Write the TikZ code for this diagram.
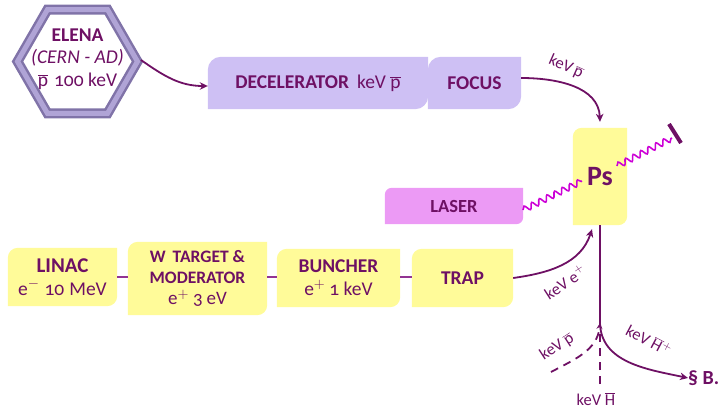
\documentclass[tikz,border=0pt]{standalone}
\usepackage{fontspec}
\setmainfont{Carlito}[Numbers=OldStyle]
\usetikzlibrary{arrows.meta,decorations.pathmorphing,backgrounds}

\definecolor{ink}{RGB}{110,16,100}
\definecolor{lav}{RGB}{206,192,244}
\definecolor{yel}{RGB}{255,251,153}
\definecolor{las}{RGB}{236,154,245}
\definecolor{wavec}{RGB}{204,0,214}
\definecolor{linkc}{RGB}{146,52,146}
\definecolor{hexdark}{RGB}{128,115,168}
\definecolor{hexmid}{RGB}{176,164,214}

% box with rounded top-left and bottom-right corners: node, colour, radius
\newcommand\leafshape[3]{%
  \fill[#2] (#1.south west) -- ([yshift=-#3]#1.north west)
    arc[start angle=180,end angle=90,radius=#3] -- (#1.north east)
    -- ([yshift=#3]#1.south east)
    arc[start angle=0,end angle=-90,radius=#3] -- cycle;}

\newcommand\pbar{\(\overline{\mathrm{p}}\)}
\newcommand\Hbar{\(\overline{\mathrm{H}}\)}

\begin{document}
\begin{tikzpicture}[x=1pt,y=1pt,
  txt/.style={text=ink, align=center, inner sep=0pt},
  bigf/.style={font=\fontsize{19.5}{23}\selectfont},
  lbl/.style={text=ink, font=\fontsize{16.5}{18}\selectfont, inner sep=0pt},
  arr/.style={draw=ink, line width=1.8pt, -{Stealth[length=8pt,width=7.5pt,inset=2.5pt]}},
  linkline/.style={draw=linkc, line width=2.5pt},
  wavy/.style={draw=wavec, line width=1.6pt, decorate,
    decoration={snake, amplitude=3pt, segment length=8.5pt}},
]
\useasboundingbox (0,0) rectangle (724,-410);

% ELENA hexagon
\coordinate (hexc) at (77.5,-61.5);
\draw[hexdark, line width=10pt, line join=miter]
  (hexc) +(0:60) -- +(60:60) -- +(120:60) -- +(180:60) -- +(240:60) -- +(300:60) -- cycle;
\draw[hexmid, line width=5pt, line join=miter]
  (hexc) +(0:60) -- +(60:60) -- +(120:60) -- +(180:60) -- +(240:60) -- +(300:60) -- cycle;
\node[txt, font=\fontsize{19.5}{22.5}\selectfont] (elena) at (77.5,-59) {\textbf{ELENA}\\\textit{(CERN - AD)}\\\pbar\hspace{6pt}100 keV};
\coordinate (elenaout) at (141,-60);

% upper beam line
\node[txt, bigf, minimum width=220pt, minimum height=52pt] (dec) at (318,-83)
  {\textbf{DECELERATOR}\hspace{8pt}keV \pbar};
\node[txt, bigf, minimum width=93pt, minimum height=52pt] (focus) at (474.5,-83) {\textbf{FOCUS}};

% positronium target
\node[txt, font=\fontsize{28}{30}\selectfont\bfseries, minimum width=54pt, minimum height=97pt] (ps) at (600,-176.5) {\raisebox{-3pt}{Ps}};

% laser
\node[txt, font=\fontsize{18.5}{20}\selectfont\bfseries, minimum width=138pt, minimum height=36pt] (laser) at (454,-206) {LASER};

% lower beam line
\node[txt, bigf, minimum width=109pt, minimum height=58pt] (linac) at (62.5,-277)
  {{\fontsize{21}{24}\selectfont\textbf{LINAC}}\\e\(^{-}\)\hspace{5pt}10\hspace{5pt}MeV};
\node[txt, font=\fontsize{17.5}{20.5}\selectfont, minimum width=139pt, minimum height=73pt] (wtarget) at (197.5,-278.5)
  {\textbf{W\hspace{3pt} TARGET \&}\\\textbf{MODERATOR}\\[1pt]{\fontsize{19}{22}\selectfont e\(^{+}\)\hspace{4pt}3\hspace{4pt}eV}};
\node[txt, bigf, minimum width=123pt, minimum height=58pt] (buncher) at (338.5,-278)
  {\textbf{BUNCHER}\\e\(^{+}\)\hspace{4pt}1 keV};
\node[txt, bigf, minimum width=101pt, minimum height=58pt] (trap) at (462.5,-278) {\textbf{TRAP}};

\begin{pgfonlayer}{background}
  \leafshape{dec}{lav}{13pt}
  \leafshape{focus}{lav}{13pt}
  \leafshape{ps}{yel}{9pt}
  \leafshape{laser}{las}{7pt}
  \leafshape{linac}{yel}{10pt}
  \leafshape{wtarget}{yel}{10pt}
  \leafshape{buncher}{yel}{10pt}
  \leafshape{trap}{yel}{10pt}
\end{pgfonlayer}

% links between the lower boxes
\draw[linkline] (linac.east) -- (linac.east -| wtarget.west);
\draw[linkline] (wtarget.east |- linac.east) -- (linac.east -| buncher.west);
\draw[linkline] (buncher.east |- linac.east) -- (linac.east -| trap.west);

% beams
\draw[arr] (elenaout) to[out=-35,in=180] ([yshift=-3pt]dec.west);
\draw[arr] ([yshift=5pt]focus.east) to[out=0,in=92] ([yshift=6pt]ps.north);
\node[lbl, rotate=-24] (lpbar) at (566,-67) {keV\,\pbar};

\draw[arr] (trap.east) to[out=8,in=-108] ([xshift=-8pt,yshift=-4pt]ps.south);
\node[lbl, rotate=33] (lepos) at (565,-282) {keV e\(^{+}\)};

\coordinate (split) at (600,-322);
\node[txt, font=\fontsize{20}{22}\selectfont\bfseries, anchor=west] (sec) at (688,-378) {\S\ B.};
\draw[arr] (ps.south) -- (split) to[out=-90,in=168] (sec.west);
\node[lbl, rotate=-28] (lhbar) at (649,-340) {keV \Hbar\(^{+}\)};

\coordinate (pin) at (551,-372);
\draw[arr, dash pattern=on 8pt off 6pt, -{Stealth[length=6pt,width=6pt,inset=2pt]}] (pin) to[out=28,in=-95] ([yshift=-1pt]split);
\node[lbl, rotate=33] (lpin) at (557,-347) {keV \pbar};

\coordinate (hbot) at (600,-384);
\draw[draw=ink, line width=1.8pt, dash pattern=on 8pt off 6pt] (hbot) -- (600,-332);
\node[lbl] (lh) at (596,-399) {keV \Hbar};

% laser light through the positronium cloud
\draw[wavy] (523,-210) -- (582,-181);
\draw[wavy] (617,-166) -- (672,-138);
\draw[ink, line width=4pt] (669,-124) -- (681,-143);
\end{tikzpicture}
\end{document}
